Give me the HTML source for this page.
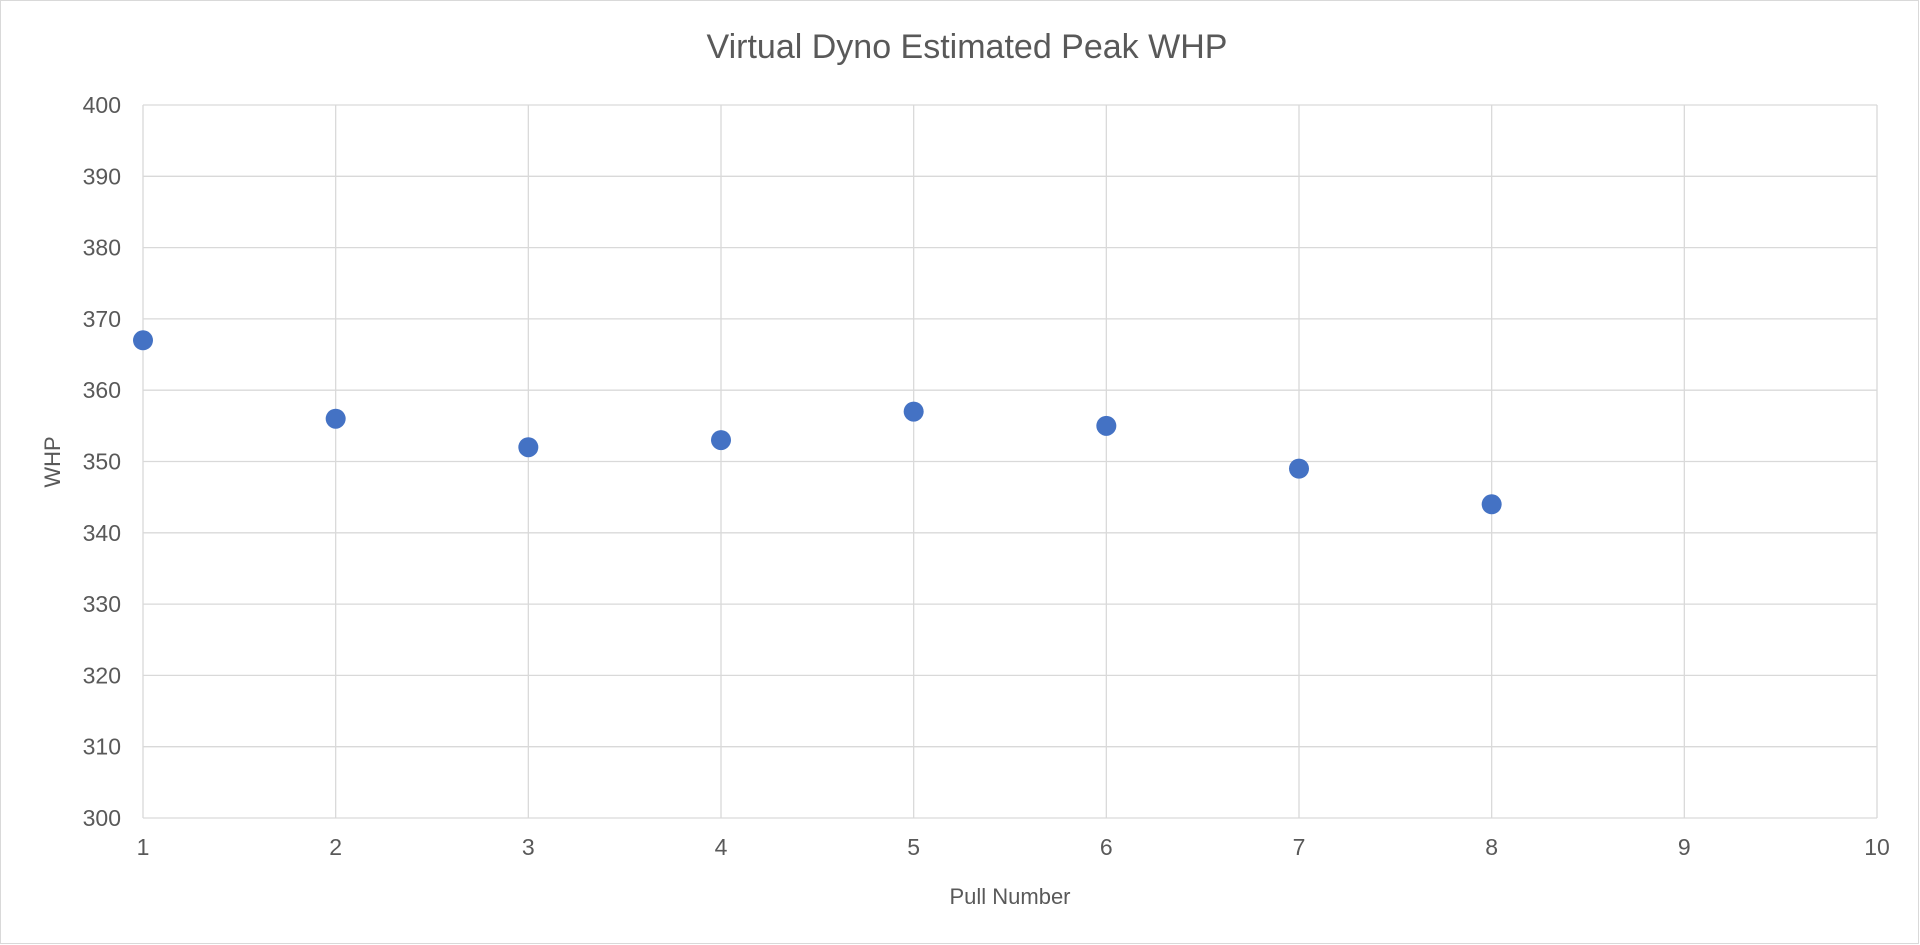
<!DOCTYPE html>
<html><head><meta charset="utf-8"><style>
html,body{margin:0;padding:0;background:#fff;}
svg{display:block;font-family:"Liberation Sans",sans-serif;}
</style></head><body>
<svg id="chart" width="1920" height="945">
<rect x="0.5" y="0.5" width="1918" height="943" fill="#fff" stroke="#d9d9d9"/>
<text x="967" y="58" text-anchor="middle" font-size="34" fill="#595959">Virtual Dyno Estimated Peak WHP</text>
<g id="grid"></g>
<g id="pts"></g>
<text x="1010" y="904" text-anchor="middle" font-size="22" fill="#595959">Pull Number</text>
<text transform="translate(60,462) rotate(-90)" text-anchor="middle" font-size="22" fill="#595959">WHP</text>
</svg>
<script>
const xs = [1,2,3,4,5,6,7,8];
const whp = [367,356,352,353,357,355,349,344];
const xTicks = [1,2,3,4,5,6,7,8,9,10];
const yTicks = [300,310,320,330,340,350,360,370,380,390,400];
const L=143,R=1877,T=105,B=818;
const X=v=>L+(v-1)/9*(R-L);
const Y=v=>B-(v-300)/100*(B-T);
const NS="http://www.w3.org/2000/svg";
const g=document.getElementById('grid'), p=document.getElementById('pts');
function mk(tag,attrs,parent){const e=document.createElementNS(NS,tag);for(const k in attrs)e.setAttribute(k,attrs[k]);parent.appendChild(e);return e;}
yTicks.forEach(v=>{
 const l=mk('line',{x1:L,x2:R,y1:Y(v),y2:Y(v),stroke:'#d9d9d9','stroke-width':1.3},g);
 
 
 const t=mk('text',{x:L-22,y:Y(v)+8,'text-anchor':'end','font-size':23,fill:'#595959'},g);
 t.textContent=v;
 
 
});
xTicks.forEach(v=>{
 const l=mk('line',{x1:X(v),x2:X(v),y1:T,y2:B,stroke:'#d9d9d9','stroke-width':1.3},g);
 
 
 const t=mk('text',{x:X(v),y:B+37,'text-anchor':'middle','font-size':23,fill:'#595959'},g);
 t.textContent=v;
 
 
});
xs.forEach((x,i)=>{
 const c=mk('circle',{cx:X(x),cy:Y(whp[i]),r:10,fill:'#4472c4'},p);
 
 
});
</script>
</body></html>
